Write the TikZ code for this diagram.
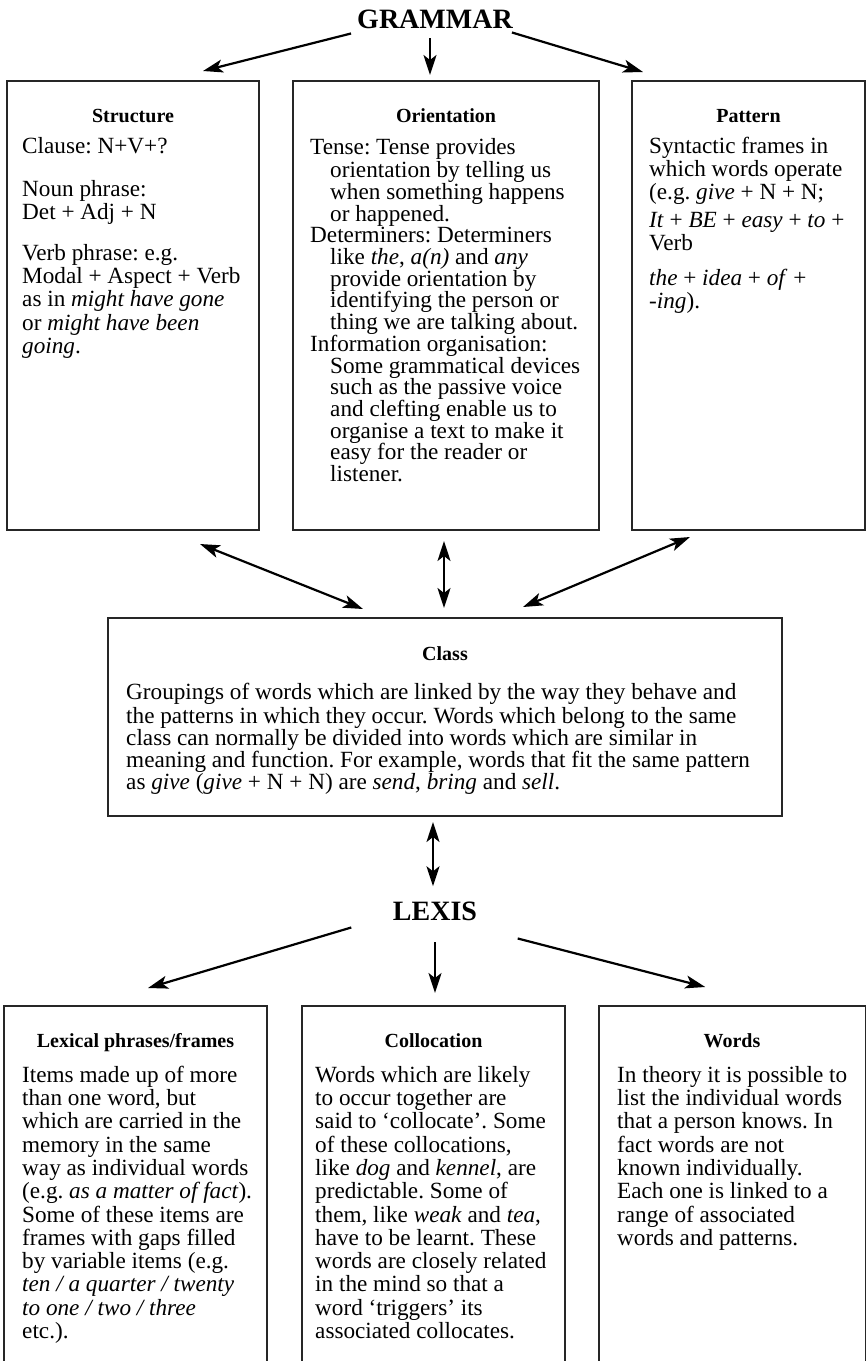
\documentclass[tikz,border=0pt]{standalone}
\usepackage{fontspec}
\setmainfont{Liberation Serif}
\usetikzlibrary{arrows.meta}
\begin{document}
\frenchspacing
\begin{tikzpicture}[x=1pt,y=-1pt,
  panel/.style={draw=black!85, line width=1.1pt, inner sep=0pt, outer sep=0pt, anchor=north west},
  head/.style={font=\fontsize{20}{22}\selectfont\bfseries, anchor=base, inner sep=0pt},
  body/.style={font=\fontsize{23.2}{23.3}\selectfont, align=left, anchor=north west, inner sep=0pt},
  level/.style={font=\fontsize{28}{30}\selectfont\bfseries, anchor=base, inner sep=0pt},
  oneway/.style={line width=2.2pt, -{Stealth[length=20pt,width=13pt,inset=5pt]}},
  twoway/.style={line width=2.2pt, {Stealth[length=20pt,width=13pt,inset=5pt]}-{Stealth[length=20pt,width=13pt,inset=5pt]}},
]
\useasboundingbox (0,0) rectangle (867,1361);
\clip (0,0) rectangle (867,1361);

% ---- grammar level ----
\node[level] (gram) at (435,28) {GRAMMAR};

\node[panel, minimum width=252pt, minimum height=449pt] (struct) at (7,81) {};
\node[panel, minimum width=306pt, minimum height=449pt] (orient) at (293,81) {};
\node[panel, minimum width=233pt, minimum height=449pt] (pattern) at (632,81) {};

\node[head] (structT) at (133,122) {Structure};
\node[head] (orientT) at (446,122) {Orientation};
\node[head] (patternT) at (748.5,122) {Pattern};

\node[body] (structB) at (22,136.7) {\strut Clause: N+V+?\\[20pt]
Noun phrase:\\
Det + Adj + N\\[17pt]
Verb phrase: e.g.\\
Modal + Aspect + Verb\\
as in \textit{might have gone}\\
or \textit{might have been}\\
\textit{going}.};

\node[body, font=\fontsize{23.2}{21.7}\selectfont] (orientB) at (310,137.8) {\strut Tense: Tense provides\\
\hspace*{20pt}orientation by telling us\\
\hspace*{20pt}when something happens\\
\hspace*{20pt}or happened.\\
Determiners: Determiners\\
\hspace*{20pt}like \textit{the}, \textit{a(n)} and \textit{any}\\
\hspace*{20pt}provide orientation by\\
\hspace*{20pt}identifying the person or\\
\hspace*{20pt}thing we are talking about.\\
Information organisation:\\
\hspace*{20pt}Some grammatical devices\\
\hspace*{20pt}such as the passive voice\\
\hspace*{20pt}and clefting enable us to\\
\hspace*{20pt}organise a text to make it\\
\hspace*{20pt}easy for the reader or\\
\hspace*{20pt}listener.};

\node[body, font=\fontsize{23.2}{23}\selectfont] (patternB) at (649,136.9) {\strut Syntactic frames in\\
which words operate\\
(e.g. \textit{give} + N + N;\\[5pt]
\textit{It} + \textit{BE} + \textit{easy} + \textit{to} +\\
Verb\\[12pt]
\textit{the} + \textit{idea} + \textit{of} +\\
\textit{-ing}).};

% ---- class ----
\node[panel, minimum width=674pt, minimum height=198pt] (class) at (108,618) {};
\node[head] (classT) at (445,660) {Class};
\node[body, font=\fontsize{23.2}{20.8}\selectfont] (classB) at (126,683.4) {\strut Groupings of words which are linked by the way they behave and\\
the patterns in which they occur. Words which belong to the same\\
class can normally be divided into words which are similar in\\
meaning and function. For example, words that fit the same pattern\\
as \textit{give} (\textit{give} + N + N) are \textit{send}, \textit{bring} and \textit{sell}.};

% ---- lexis level ----
\node[level] (lexis) at (435,920) {LEXIS};

\node[panel, minimum width=263pt, minimum height=360pt] (lex) at (4,1006) {};
\node[panel, minimum width=263pt, minimum height=360pt] (colloc) at (302,1006) {};
\node[panel, minimum width=266.5pt, minimum height=360pt] (words) at (599,1006) {};

\node[head] (lexT) at (135.5,1047) {Lexical phrases/frames};
\node[head] (collocT) at (433.5,1047) {Collocation};
\node[head] (wordsT) at (732,1047) {Words};

\node[body] (lexB) at (22,1065.7) {\strut Items made up of more\\
than one word, but\\
which are carried in the\\
memory in the same\\
way as individual words\\
(e.g. \textit{as a matter of fact}).\\
Some of these items are\\
frames with gaps filled\\
by variable items (e.g.\\
\textit{ten / a quarter / twenty}\\
\textit{to one / two / three}\\
etc.).};

\node[body] (collocB) at (315,1065.7) {\strut Words which are likely\\
to occur together are\\
said to `collocate'. Some\\
of these collocations,\\
like \textit{dog} and \textit{kennel}, are\\
predictable. Some of\\
them, like \textit{weak} and \textit{tea},\\
have to be learnt. These\\
words are closely related\\
in the mind so that a\\
word `triggers' its\\
associated collocates.};

\node[body] (wordsB) at (617,1065.7) {\strut In theory it is possible to\\
list the individual words\\
that a person knows. In\\
fact words are not\\
known individually.\\
Each one is linked to a\\
range of associated\\
words and patterns.};

% ---- connectors ----
\draw[oneway] ([shift={(-6,5)}]gram.south west) -- ([shift={(70,-10)}]struct.north);
\draw[oneway] ([shift={(-5,10)}]gram.south) -- ([shift={(-16,-6)}]orient.north);
\draw[oneway] ([shift={(-1,4)}]gram.south east) -- ([shift={(-105.5,-9)}]pattern.north);

\draw[twoway] ([shift={(67,14)}]struct.south) -- ([shift={(-82,-9)}]class.north);
\draw[twoway] ([shift={(-2,11)}]orient.south) -- ([shift={(-1,-10)}]class.north);
\draw[twoway] ([shift={(-58.5,7)}]pattern.south) -- ([shift={(78,-11)}]class.north);

\draw[twoway] ([shift={(-12,6)}]class.south) -- ([shift={(-2,-15)}]lexis.north);

\draw[oneway] ([shift={(-41.5,7)}]lexis.south west) -- ([shift={(12.5,-18)}]lex.north);
\draw[oneway] ([shift={(0,22)}]lexis.south) -- ([shift={(1.5,-13)}]colloc.north);
\draw[oneway] ([shift={(40.5,18)}]lexis.south east) -- ([shift={(-27,-19)}]words.north);
\end{tikzpicture}
\end{document}
